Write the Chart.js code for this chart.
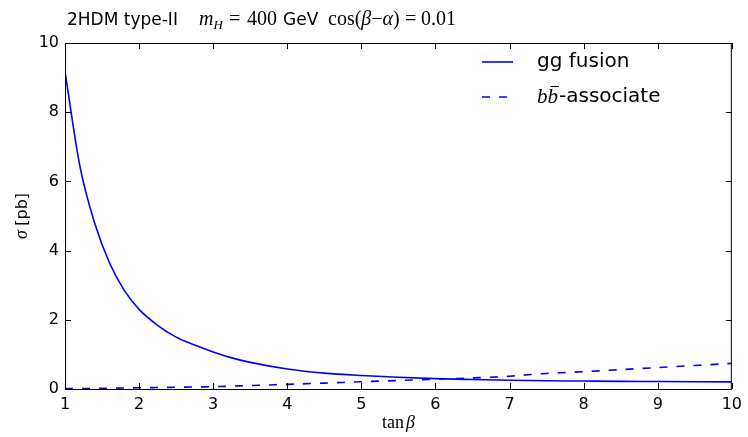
<!DOCTYPE html>
<html>
<head>
<meta charset="utf-8">
<script src="https://cdn.jsdelivr.net/npm/chart.js@4/dist/chart.umd.min.js"></script>
<style>
  html, body { margin: 0; padding: 0; background: #fff; }
  #wrap { width: 748px; height: 437px; }
</style>
</head>
<body>
<div id="wrap"><canvas id="xsec"></canvas></div>
<script>
// tan(beta) grid and cross sections in pb
var tanbGG = [1, 1.2, 1.4, 1.6, 1.8, 2, 2.25, 2.5, 2.75, 3, 3.25, 3.5, 4, 4.5, 5, 5.5, 6, 6.5, 7, 7.5, 8, 8.5, 9, 9.5, 10];
var sigmaGG = [9.17, 6.45, 4.8, 3.65, 2.85, 2.3, 1.84, 1.5, 1.27, 1.07, 0.9, 0.77, 0.58, 0.46, 0.39, 0.34, 0.30, 0.275, 0.255, 0.24, 0.23, 0.22, 0.215, 0.21, 0.205];
var tanbBB = [1, 1.5, 2, 2.5, 3, 3.5, 4, 4.5, 5, 5.5, 6, 6.5, 7, 7.5, 8, 8.5, 9, 9.5, 10];
var sigmaBB = [0.01, 0.02, 0.035, 0.05, 0.067, 0.1, 0.135, 0.17, 0.21, 0.245, 0.285, 0.32, 0.37, 0.45, 0.5, 0.56, 0.62, 0.68, 0.74];
var xTicks = [1, 2, 3, 4, 5, 6, 7, 8, 9, 10];
var yTicks = [0, 2, 4, 6, 8, 10];

function pts(xs, ys) {
    return xs.map(function (x, i) { return { x: x, y: ys[i] }; });
}

var SANS = '"DejaVu Sans", sans-serif';
var SERIF = '"Liberation Serif", serif';

// draws a run of [text, font, x?, dy?] pieces, returns the end x
function run(c, parts, x, y) {
    parts.forEach(function (p) {
        c.font = p[1];
        if (p[2] !== undefined) x = p[2];
        c.fillText(p[0], x, y + (p[3] || 0));
        x += c.measureText(p[0]).width;
    });
    return x;
}

// frame, inward ticks on all sides, title, axis titles and legend
var decor = {
    id: 'decor',
    afterDraw: function (chart) {
        var c = chart.ctx, a = chart.chartArea;
        var xs = chart.scales.x, ys = chart.scales.y;
        c.save();
        c.strokeStyle = '#000';
        c.lineWidth = 1;
        c.strokeRect(a.left + 0.5, a.top + 0.5, a.right - a.left - 1, a.bottom - a.top);
        c.beginPath();
        xTicks.forEach(function (v) {
            var px = Math.round(xs.getPixelForValue(v)) + 0.5;
            c.moveTo(px, a.bottom); c.lineTo(px, a.bottom - 6);
            c.moveTo(px, a.top); c.lineTo(px, a.top + 6);
        });
        yTicks.forEach(function (v) {
            var py = Math.round(ys.getPixelForValue(v)) + 0.5;
            c.moveTo(a.left, py); c.lineTo(a.left + 6, py);
            c.moveTo(a.right, py); c.lineTo(a.right - 6, py);
        });
        c.stroke();

        c.fillStyle = '#000';
        c.textBaseline = 'alphabetic';
        c.textAlign = 'left';
        // title
        var ty = 25;
        var it = 'italic 20px ' + SERIF, rm = '20px ' + SERIF;
        run(c, [['2HDM type-II', '17px ' + SANS]], 67, ty);
        run(c, [['m', it, 199], ['H', 'italic 13px ' + SERIF, undefined, 4]], 0, ty);
        run(c, [['=', rm, 229], ['400', rm, 247], ['GeV', '17px ' + SANS, 283]], 0, ty);
        run(c, [['cos(', rm, 328], ['\u03b2', it], ['\u2212', rm], ['\u03b1', it], [')', rm],
                ['=', rm, 405], ['0.01', rm, 421]], 0, ty);

        // x axis title
        c.font = '18px ' + SERIF;
        var w1 = c.measureText('tan').width;
        c.font = 'italic 18px ' + SERIF;
        var w2 = c.measureText('\u03b2').width;
        var x0 = (a.left + a.right) / 2 - (w1 + 2 + w2) / 2;
        run(c, [['tan', '18px ' + SERIF, x0], ['\u03b2', 'italic 18px ' + SERIF, x0 + w1 + 2]], 0, 428);

        // y axis title
        c.save();
        c.translate(27, (a.top + a.bottom) / 2);
        c.rotate(-Math.PI / 2);
        c.font = 'italic 18px ' + SERIF;
        var s1 = c.measureText('\u03c3 ').width;
        c.font = '16px ' + SANS;
        var s2 = c.measureText('[pb]').width;
        var y0 = -(s1 + s2) / 2;
        run(c, [['\u03c3', 'italic 18px ' + SERIF, y0], ['[pb]', '16px ' + SANS, y0 + s1]], 0, 0);
        c.restore();

        // legend
        chart.data.datasets.forEach(function (ds, i) {
            var ly = 62 + i * 35;
            c.strokeStyle = ds.borderColor;
            c.lineWidth = ds.borderWidth;
            c.setLineDash(ds.borderDash || []);
            c.beginPath();
            c.moveTo(482, ly); c.lineTo(513, ly);
            c.stroke();
            c.setLineDash([]);
            c.fillStyle = '#000';
            c.textBaseline = 'middle';
            if (i === 0) {
                c.font = '20px ' + SANS;
                c.fillText(ds.label, 537, ly);
            } else {
                c.font = 'italic 21px ' + SERIF;
                c.fillText('b', 537, ly);
                var bw = c.measureText('b').width;
                c.fillText('b', 537 + bw, ly);
                c.lineWidth = 1;
                c.strokeStyle = '#000';
                c.beginPath();
                c.moveTo(537 + bw + 3, ly - 10.5); c.lineTo(537 + 2 * bw + 1, ly - 10.5);
                c.stroke();
                c.font = '20px ' + SANS;
                c.fillText('-associate', 537 + 2 * bw + 1, ly);
            }
        });
        c.restore();
    }
};

new Chart(document.getElementById('xsec').getContext('2d'), {
    type: 'line',
    data: {
        datasets: [{
            label: 'gg fusion',
            data: pts(tanbGG, sigmaGG),
            borderColor: '#0000ff',
            borderWidth: 1.6,
            pointRadius: 0,
            cubicInterpolationMode: 'monotone'
        }, {
            label: 'bb-associate',
            data: pts(tanbBB, sigmaBB),
            borderColor: '#0000ff',
            borderWidth: 1.6,
            borderDash: [8, 9],
            pointRadius: 0,
            cubicInterpolationMode: 'monotone'
        }]
    },
    options: {
        responsive: true,
        maintainAspectRatio: false,
        animation: false,
        layout: { padding: { top: 43, right: 13, left: 0, bottom: 0 } },
        plugins: { legend: { display: false }, tooltip: { enabled: false } },
        scales: {
            x: {
                type: 'linear',
                min: 1,
                max: 10,
                afterFit: function (s) { s.height = 48; },
                afterBuildTicks: function (s) { s.ticks = xTicks.map(function (v) { return { value: v }; }); },
                grid: { display: false, drawTicks: false, tickLength: 0 },
                border: { display: false },
                ticks: { color: '#000', padding: 6, font: { family: 'DejaVu Sans', size: 16 } }
            },
            y: {
                min: 0,
                max: 10,
                afterFit: function (s) { s.width = 65; },
                afterBuildTicks: function (s) { s.ticks = yTicks.map(function (v) { return { value: v }; }); },
                grid: { display: false, drawTicks: false, tickLength: 0 },
                border: { display: false },
                ticks: { color: '#000', padding: 6, font: { family: 'DejaVu Sans', size: 16 } }
            }
        }
    },
    plugins: [decor]
});
</script>
</body>
</html>
